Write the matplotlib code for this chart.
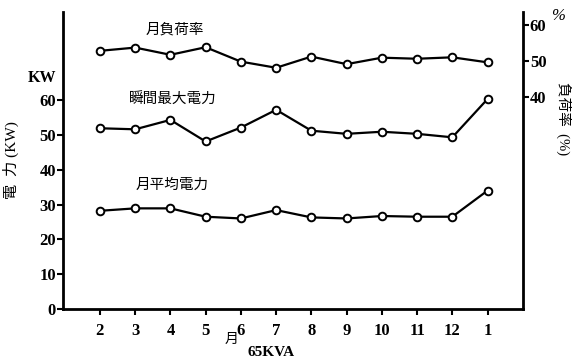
import matplotlib
matplotlib.use("Agg")
import matplotlib.pyplot as plt

plt.rcParams['font.family'] = ['Liberation Serif', 'Noto Sans CJK JP']

months = ["2", "3", "4", "5", "6", "7", "8", "9", "10", "11", "12", "1"]
load_factor = [52.8, 53.7, 51.7, 53.8, 49.8, 48.1, 51.2, 49.1, 50.9, 50.6, 51.0, 49.6]
peak_power = [51.9, 51.6, 54.3, 48.1, 52.1, 57.2, 51.2, 50.3, 50.9, 50.3, 49.3, 60.3]
avg_power = [28.2, 28.9, 28.9, 26.5, 26.0, 28.4, 26.3, 26.0, 26.7, 26.5, 26.5, 34.0]
kw_ticks = [0, 10, 20, 30, 40, 50, 60]
pct_ticks = [40, 50, 60]

fig = plt.figure(figsize=(5.72, 3.62), dpi=100)
ax = fig.add_axes([0.110, 0.1464, 0.804, 0.8206])
ax2 = ax.twinx()

x = list(range(len(months)))
line_kw = dict(color='black', lw=1.6, marker='o', ms=5.5, mfc='white', mec='black', mew=1.4)
ax.plot(x, peak_power, **line_kw)
ax.plot(x, avg_power, **line_kw)
ax2.plot(x, load_factor, **line_kw)

ax.set_xlim(-1.05, 12.0)
ax.set_ylim(0, 85.3)
ax2.set_ylim(-18.9, 63.6)

ax.set_xticks(x)
ax.set_xticklabels(months)
ax.set_yticks(kw_ticks)
ax2.set_yticks(pct_ticks)

for a in (ax, ax2):
    a.spines['top'].set_visible(False)
    for s in a.spines.values():
        s.set_linewidth(2)
    a.tick_params(direction='out', length=4, width=1.5, labelsize=12, pad=1)
ax2.spines['left'].set_visible(False)
ax2.spines['bottom'].set_visible(False)
ax.spines['right'].set_visible(False)
for lab in ax.get_xticklabels() + ax.get_yticklabels() + ax2.get_yticklabels():
    lab.set_fontweight('bold')
ax.tick_params(axis='x', pad=6)

ax.set_ylabel("電  力 (KW)", fontsize=11)
ax.yaxis.set_label_coords(-0.095, 0.5)
ax2.set_ylabel("負荷率  (%)", fontsize=10.5, rotation=-90, va='center', ha='center')
ax2.yaxis.set_label_coords(1.088, 0.64)

fig.text(0.074, 0.785, "KW", fontsize=11.5, fontweight='bold', ha='center', va='center')
fig.text(0.975, 0.955, "%", fontsize=12, style='italic', ha='center', va='center')
fig.text(0.305, 0.918, "月負荷率", fontsize=10.5, ha='center', va='center')
fig.text(0.303, 0.724, "瞬間最大電力", fontsize=10.5, ha='center', va='center')
fig.text(0.301, 0.487, "月平均電力", fontsize=10.5, ha='center', va='center')
fig.text(0.404, 0.062, "月", fontsize=10, ha='center', va='center')
fig.text(0.474, 0.027, "65KVA", fontsize=11, fontweight='bold', ha='center', va='center')

fig.savefig("out.png", dpi=100)
